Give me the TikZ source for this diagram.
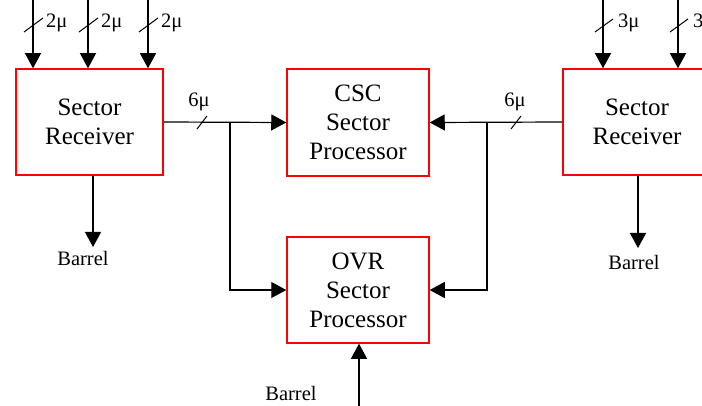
\documentclass[tikz,border=0pt]{standalone}
\usepackage{fontspec}
\setmainfont{Liberation Serif}
\usetikzlibrary{arrows.meta}
\begin{document}
\begin{tikzpicture}[x=1pt,y=-1pt,
  box/.style={draw=red, line width=1.5pt, minimum width=147pt, minimum height=106pt,
    inner sep=0pt, align=center, font=\fontsize{25}{29}\selectfont},
  lbl/.style={font=\fontsize{20.5}{24}\selectfont, inner sep=0pt},
  conn/.style={line width=1.2pt, -{Triangle[length=15pt,width=16pt]}},
  wire/.style={line width=1.2pt},
  slashmark/.style={line width=1pt}]
\useasboundingbox (0,0) rectangle (702,406);
\clip (0,0) rectangle (702,406);

% boxes
\node[box] (sr1) at (89.5,122) {Sector\\Receiver};
\node[box, minimum width=142pt, minimum height=107pt] (csc) at (358,122.5) {CSC\\Sector\\Processor};
\node[box, minimum width=142pt] (ovr) at (358,290) {OVR\\Sector\\Processor};
\node[box, minimum width=148pt] (sr2) at (637,122) {Sector\\Receiver};

% inputs to left receiver
\foreach \x/\n in {33/a,88/b,148/c}{
  \coordinate (in\n) at (\x,0);
  \draw[conn] (in\n) -- (in\n |- sr1.north);
  \draw[slashmark] ([shift={(-9,32)}]in\n) -- ([shift={(10,18)}]in\n);
  \node[lbl, anchor=west] at ([shift={(13,23)}]in\n) {2μ};
}
% inputs to right receiver
\foreach \x/\n in {603/d,678/e}{
  \coordinate (in\n) at (\x,0);
  \draw[conn] (in\n) -- (in\n |- sr2.north);
  \draw[slashmark] ([shift={(-8,32)}]in\n) -- ([shift={(10,19)}]in\n);
  \node[lbl, anchor=west] at ([shift={(15,23)}]in\n) {3μ};
}

% receiver outputs to processors
\draw[conn] (sr1.east) -- (csc.west);
\draw[conn] (sr2.west) -- (csc.east);
\coordinate (b1) at (230,122);
\coordinate (b2) at (487,122);
\draw[conn] (b1) |- (ovr.west);
\draw[conn] (b2) |- (ovr.east);

% 6mu slashes and labels
\coordinate (s1) at (202,122);
\coordinate (s2) at (516,122);
\draw[slashmark] ([shift={(-5,7)}]s1) -- ([shift={(5,-6)}]s1);
\draw[slashmark] ([shift={(-5,7)}]s2) -- ([shift={(5,-6)}]s2);
\node[lbl] at (199,102) {6μ};
\node[lbl] at (515,102) {6μ};

% barrel outputs
\coordinate (o1) at (93,247);
\coordinate (o2) at (638,248);
\draw[conn] (o1 |- sr1.south) -- (o1);
\draw[conn] (o2 |- sr2.south) -- (o2);
\node[lbl] (bl1) at (83,258) {Barrel};
\node[lbl] (bl2) at (634,262) {Barrel};

% barrel input to OVR
\coordinate (bb) at (359,406);
\draw[conn] (bb) -- (bb |- ovr.south);
\node[lbl] (bl3) at (291,393) {Barrel};
\end{tikzpicture}
\end{document}
